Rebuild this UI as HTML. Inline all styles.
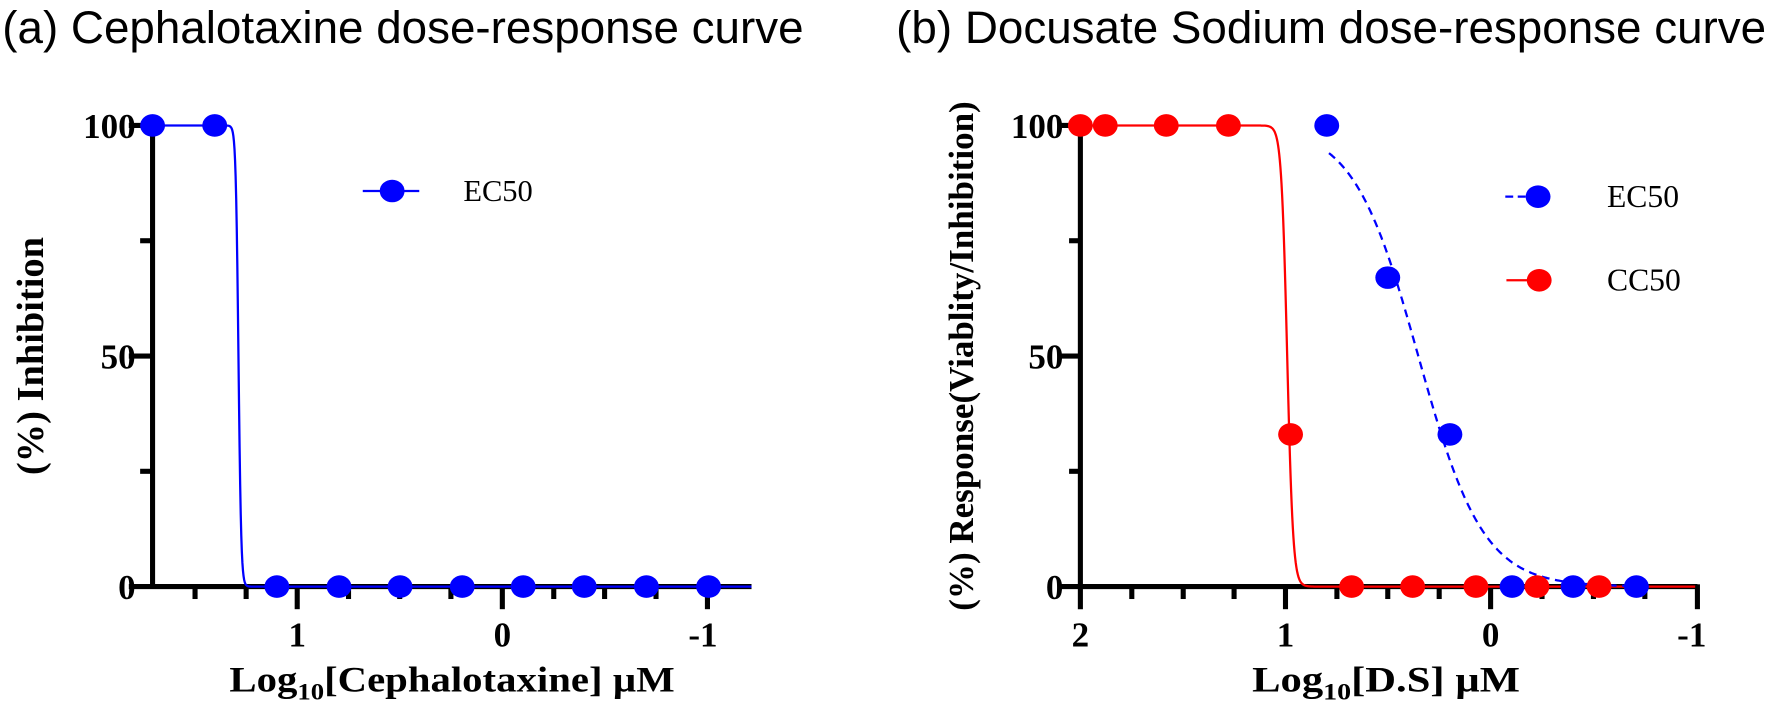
<!DOCTYPE html>
<html><head><meta charset="utf-8"><style>
html,body{margin:0;padding:0;background:#fff;overflow:hidden}
svg{display:block}
.t{font-family:"Liberation Sans",sans-serif;font-size:40.5px;fill:#000}
.b{font-family:"Liberation Serif",serif;font-weight:bold;fill:#000}
.l{font-family:"Liberation Serif",serif;fill:#000}
</style></head><body>
<svg id="s" width="1772" height="703" viewBox="0 0 1568 622" preserveAspectRatio="none" xmlns="http://www.w3.org/2000/svg">
<text class="t" x="2" y="38">(a) Cephalotaxine dose-response curve</text>
<text class="t" x="793" y="38">(b) Docusate Sodium dose-response curve</text>

<g stroke="#000" stroke-width="4.5" fill="none">
<line x1="135" y1="109" x2="135" y2="521"/>
<line x1="114" y1="519" x2="665" y2="519"/>
<line x1="114" y1="111" x2="135" y2="111"/>
<line x1="114" y1="315" x2="135" y2="315"/>
<line x1="124" y1="213" x2="135" y2="213"/>
<line x1="124" y1="417" x2="135" y2="417"/>
<line x1="263" y1="519" x2="263" y2="539"/>
<line x1="444.5" y1="519" x2="444.5" y2="539"/>
<line x1="626" y1="519" x2="626" y2="539"/>
<line x1="172.6" y1="519" x2="172.6" y2="530"/>
<line x1="217.8" y1="519" x2="217.8" y2="530"/>
<line x1="308.4" y1="519" x2="308.4" y2="530"/>
<line x1="353.7" y1="519" x2="353.7" y2="530"/>
<line x1="399" y1="519" x2="399" y2="530"/>
<line x1="490" y1="519" x2="490" y2="530"/>
<line x1="535" y1="519" x2="535" y2="530"/>
<line x1="580.5" y1="519" x2="580.5" y2="530"/>
</g>
<g class="b" font-size="31" text-anchor="end">
<text x="120" y="122">100</text><text x="120" y="326">50</text><text x="120" y="530">0</text>
</g>
<g class="b" font-size="31" text-anchor="middle">
<text x="263" y="572">1</text><text x="444.5" y="572">0</text><text x="622" y="572">-1</text>
</g>
<text class="b" font-size="32" x="203" y="612" textLength="394" lengthAdjust="spacingAndGlyphs">Log<tspan font-size="21" dy="7">10</tspan><tspan dy="-7">[Cephalotaxine] µM</tspan></text>
<text class="b" font-size="34" transform="translate(38,315) rotate(-90)" text-anchor="middle">(%) Inhibition</text>
<path id="c1" fill="none" stroke="#0000ff" stroke-width="2"/>
<g id="m1" fill="#0000ff"></g>
<line x1="321" y1="169" x2="371" y2="169" stroke="#0000ff" stroke-width="2"/>
<ellipse cx="347" cy="169" rx="11" ry="10" fill="#0000ff"/>
<text class="l" font-size="27" x="410" y="178">EC50</text>

<g stroke="#000" stroke-width="4.5" fill="none">
<line x1="956" y1="109" x2="956" y2="539"/>
<line x1="936" y1="519" x2="1502" y2="519"/>
<line x1="936" y1="111" x2="956" y2="111"/>
<line x1="936" y1="315" x2="956" y2="315"/>
<line x1="946" y1="213" x2="956" y2="213"/>
<line x1="946" y1="417" x2="956" y2="417"/>
<line x1="1137.5" y1="519" x2="1137.5" y2="539"/>
<line x1="1319" y1="519" x2="1319" y2="539"/>
<line x1="1502" y1="517" x2="1502" y2="539"/>
<line x1="1001.5" y1="519" x2="1001.5" y2="530"/>
<line x1="1047" y1="519" x2="1047" y2="530"/>
<line x1="1092" y1="519" x2="1092" y2="530"/>
<line x1="1183" y1="519" x2="1183" y2="530"/>
<line x1="1228" y1="519" x2="1228" y2="530"/>
<line x1="1273.5" y1="519" x2="1273.5" y2="530"/>
<line x1="1364.5" y1="519" x2="1364.5" y2="530"/>
<line x1="1410" y1="519" x2="1410" y2="530"/>
<line x1="1455.5" y1="519" x2="1455.5" y2="530"/>
</g>
<g class="b" font-size="31" text-anchor="end">
<text x="941" y="122">100</text><text x="941" y="326">50</text><text x="941" y="530">0</text>
</g>
<g class="b" font-size="31" text-anchor="middle">
<text x="956" y="572">2</text><text x="1137.5" y="572">1</text><text x="1319" y="572">0</text><text x="1497" y="572">-1</text>
</g>
<text class="b" font-size="32" x="1108" y="612" textLength="237" lengthAdjust="spacingAndGlyphs">Log<tspan font-size="21" dy="7">10</tspan><tspan dy="-7">[D.S] µM</tspan></text>
<text class="b" font-size="31" transform="translate(861,315) rotate(-90)" text-anchor="middle">(%) Response(Viablity/Inhibition)</text>
<path id="c2" fill="none" stroke="#ff0000" stroke-width="2"/>
<path id="c3" fill="none" stroke="#0000ff" stroke-width="2" stroke-dasharray="7,5"/>
<g id="m2"></g>
<line x1="1332" y1="174" x2="1362" y2="174" stroke="#0000ff" stroke-width="2" stroke-dasharray="7,4"/>
<ellipse cx="1361" cy="174" rx="11" ry="10" fill="#0000ff"/>
<text class="l" font-size="28" x="1422" y="183">EC50</text>
<line x1="1333" y1="248" x2="1362" y2="248" stroke="#ff0000" stroke-width="2"/>
<ellipse cx="1362" cy="248" rx="11" ry="10" fill="#ff0000"/>
<text class="l" font-size="28" x="1422" y="257">CC50</text>
</svg>
<script>
function Y(v){return 519-v*4.08;}
function sig(x0,x1,mid,s,top){var d="";for(var x=x0;x<=x1;x+=0.5){var v=top/(1+Math.exp((x-mid)/s));d+=(d?"L":"M")+x.toFixed(1)+","+Y(v).toFixed(1);}return d;}
document.getElementById("c1").setAttribute("d",sig(135,665,211,1.2,100));
document.getElementById("c2").setAttribute("d",sig(956,1500,1139,2.6,100));
document.getElementById("c3").setAttribute("d",sig(1176,1450,1255,28.7,100));
function dots(g,pts,c){var h="";pts.forEach(function(p){h+='<ellipse cx="'+p[0]+'" cy="'+Y(p[1])+'" rx="11" ry="10" fill="'+c+'"/>';});document.getElementById(g).innerHTML+=h;}
dots("m1",[[135,100],[190,100],[245,0],[300,0],[354,0],[409,0],[463,0],[517,0],[572,0],[627,0]],"#0000ff");
var m2=document.getElementById("m2");
var s="";
[[1174,100],[1228,67],[1283,33],[1338,0],[1392,0],[1448,0]].forEach(function(p){s+='<ellipse cx="'+p[0]+'" cy="'+Y(p[1])+'" rx="11" ry="10" fill="#0000ff"/>';});
[[956,100],[978,100],[1032,100],[1087,100],[1142,33],[1196,0],[1250,0],[1306,0],[1360,0],[1415,0]].forEach(function(p){s+='<ellipse cx="'+p[0]+'" cy="'+Y(p[1])+'" rx="11" ry="10" fill="#ff0000"/>';});
m2.innerHTML=s;
</script>
</body></html>
